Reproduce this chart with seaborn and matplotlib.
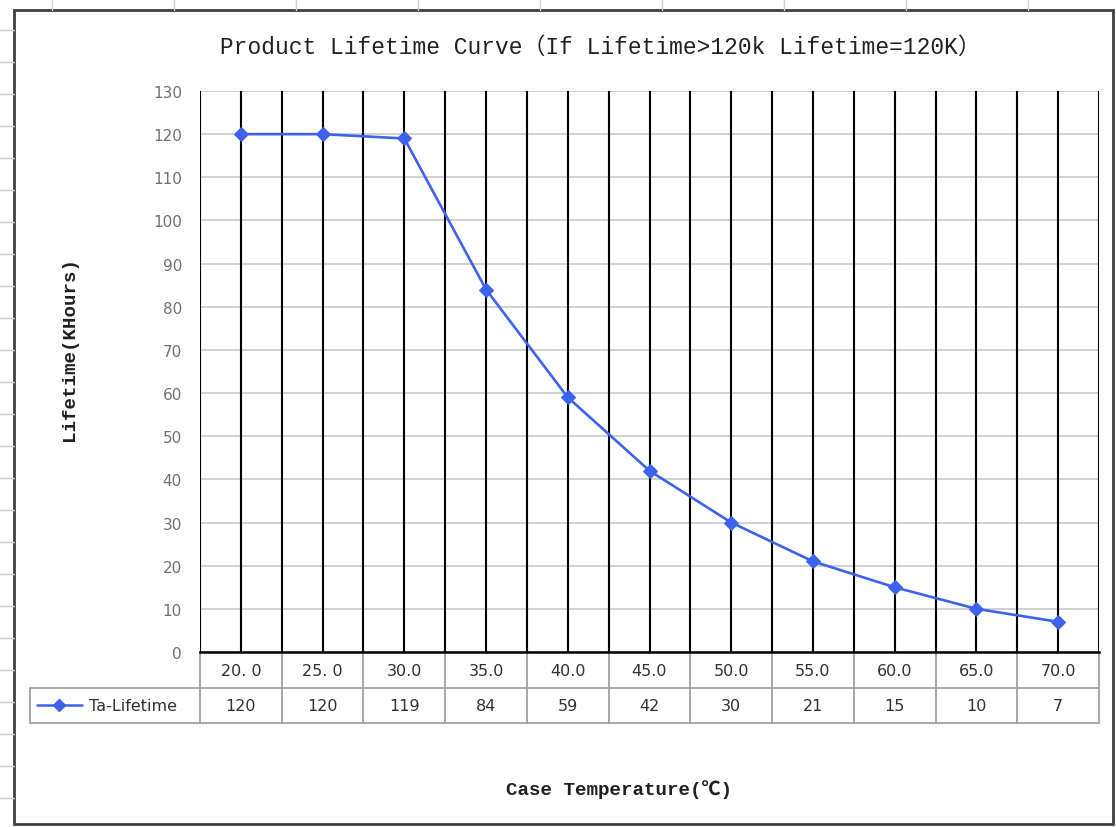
import numpy as np
import pandas as pd
import matplotlib
matplotlib.use("Agg")
import matplotlib.pyplot as plt
import matplotlib.transforms as mtransforms
from matplotlib.lines import Line2D
from matplotlib.patches import Rectangle
import seaborn as sns

temps = ["20. 0", "25. 0", "30.0", "35.0", "40.0", "45.0", "50.0", "55.0", "60.0", "65.0", "70.0"]
lifetime = [120, 120, 119, 84, 59, 42, 30, 21, 15, 10, 7]
series_name = "Ta-Lifetime"
y_ticks = list(range(0, 131, 10))

df = pd.DataFrame({"temp": temps, "life": lifetime, "pos": np.arange(len(temps))})

sns.set_style("white")
plt.rcParams["font.family"] = ["DejaVu Sans", "Noto Sans CJK SC"]
mono = ["Liberation Mono", "Noto Sans CJK SC"]

W, H = 1116, 828
fig = plt.figure(figsize=(W / 100, H / 100), dpi=100)
blue = "#3d62ee"

def fx(px):
    return px / W

def fy(py):
    return 1 - py / H

# spreadsheet grid behind the chart
for xs in range(52, W, 122):
    fig.add_artist(Line2D([fx(xs), fx(xs)], [fy(0), fy(11)], color="#d0d0d0", lw=1))
for ys in range(31, H, 32):
    fig.add_artist(Line2D([fx(0), fx(14)], [fy(ys), fy(ys)], color="#d0d0d0", lw=1))

# chart frame
fig.add_artist(Rectangle((fx(14), fy(825)), fx(1113) - fx(14), fy(11) - fy(825),
                         fill=False, edgecolor="#404040", lw=2))

ax = fig.add_axes([fx(200), fy(653), fx(1099) - fx(200), fy(92) - fy(653)])
sns.lineplot(data=df, x="pos", y="life", ax=ax, color=blue, lw=1.9,
             marker="D", markersize=7.5, markeredgecolor=blue, sort=False, zorder=5)

n = len(temps)
ax.set_xlim(-0.5, n - 0.5)
ax.set_ylim(0, 130)
ax.set_yticks(y_ticks)
ax.set_yticklabels([str(v) for v in y_ticks], color="#707070", fontsize=11, family="DejaVu Sans")
ax.tick_params(axis="y", length=0, pad=13)
ax.set_xticks([])
ax.set_xlabel("")
ax.set_ylabel("")
for yv in y_ticks:
    ax.axhline(yv, color="#c8c8c8", lw=1.2, zorder=1)
for xv in np.arange(-0.5, n, 0.5):
    ax.axvline(xv, color="black", lw=1.5, zorder=2)
for s in ["top", "right", "left"]:
    ax.spines[s].set_visible(False)
ax.spines["bottom"].set_color("black")
ax.spines["bottom"].set_linewidth(1.8)

# data table under the axis
tr = mtransforms.blended_transform_factory(ax.transData, fig.transFigure)
grid_c = "#9a9a9a"
row1_bot, row2_bot = 689, 724
for xv in np.arange(-0.5, n, 1.0):
    ax.add_line(Line2D([xv, xv], [fy(653), fy(row2_bot)], transform=tr, color=grid_c,
                       lw=1.2, clip_on=False))
for yb in [row1_bot, row2_bot]:
    fig.add_artist(Line2D([fx(30), fx(1099)], [fy(yb), fy(yb)], color=grid_c, lw=1.2))
fig.add_artist(Line2D([fx(30), fx(30)], [fy(row1_bot), fy(row2_bot)], color=grid_c, lw=1.2))

for i, (t, v) in enumerate(zip(temps, lifetime)):
    ax.text(i, fy(671), t, transform=tr, ha="center", va="center", fontsize=11.5, color="#303030")
    ax.text(i, fy(707), str(v), transform=tr, ha="center", va="center", fontsize=11.5, color="#303030")

fig.add_artist(Line2D([fx(37), fx(82)], [fy(706), fy(706)], color=blue, lw=1.8))
fig.add_artist(Line2D([fx(59)], [fy(706)], color=blue, marker="D", markersize=6.5, lw=0))
fig.text(fx(89), fy(707), series_name, ha="left", va="center", fontsize=11.5, color="#303030")

fig.text(fx(600), fy(47), "Product Lifetime Curve（If Lifetime>120k Lifetime=120K）",
         ha="center", va="center", fontsize=16.5, family=mono, color="#202020")
fig.text(fx(619), fy(790), "Case Temperature(℃)", ha="center", va="center",
         fontsize=13.8, family=mono, fontweight="bold", color="#202020")
fig.text(fx(70), fy(349), "Lifetime(KHours)", ha="center", va="center", rotation=90,
         fontsize=13.8, family=mono, fontweight="bold", color="#202020")

fig.savefig("out.png", dpi=100, facecolor="white")
